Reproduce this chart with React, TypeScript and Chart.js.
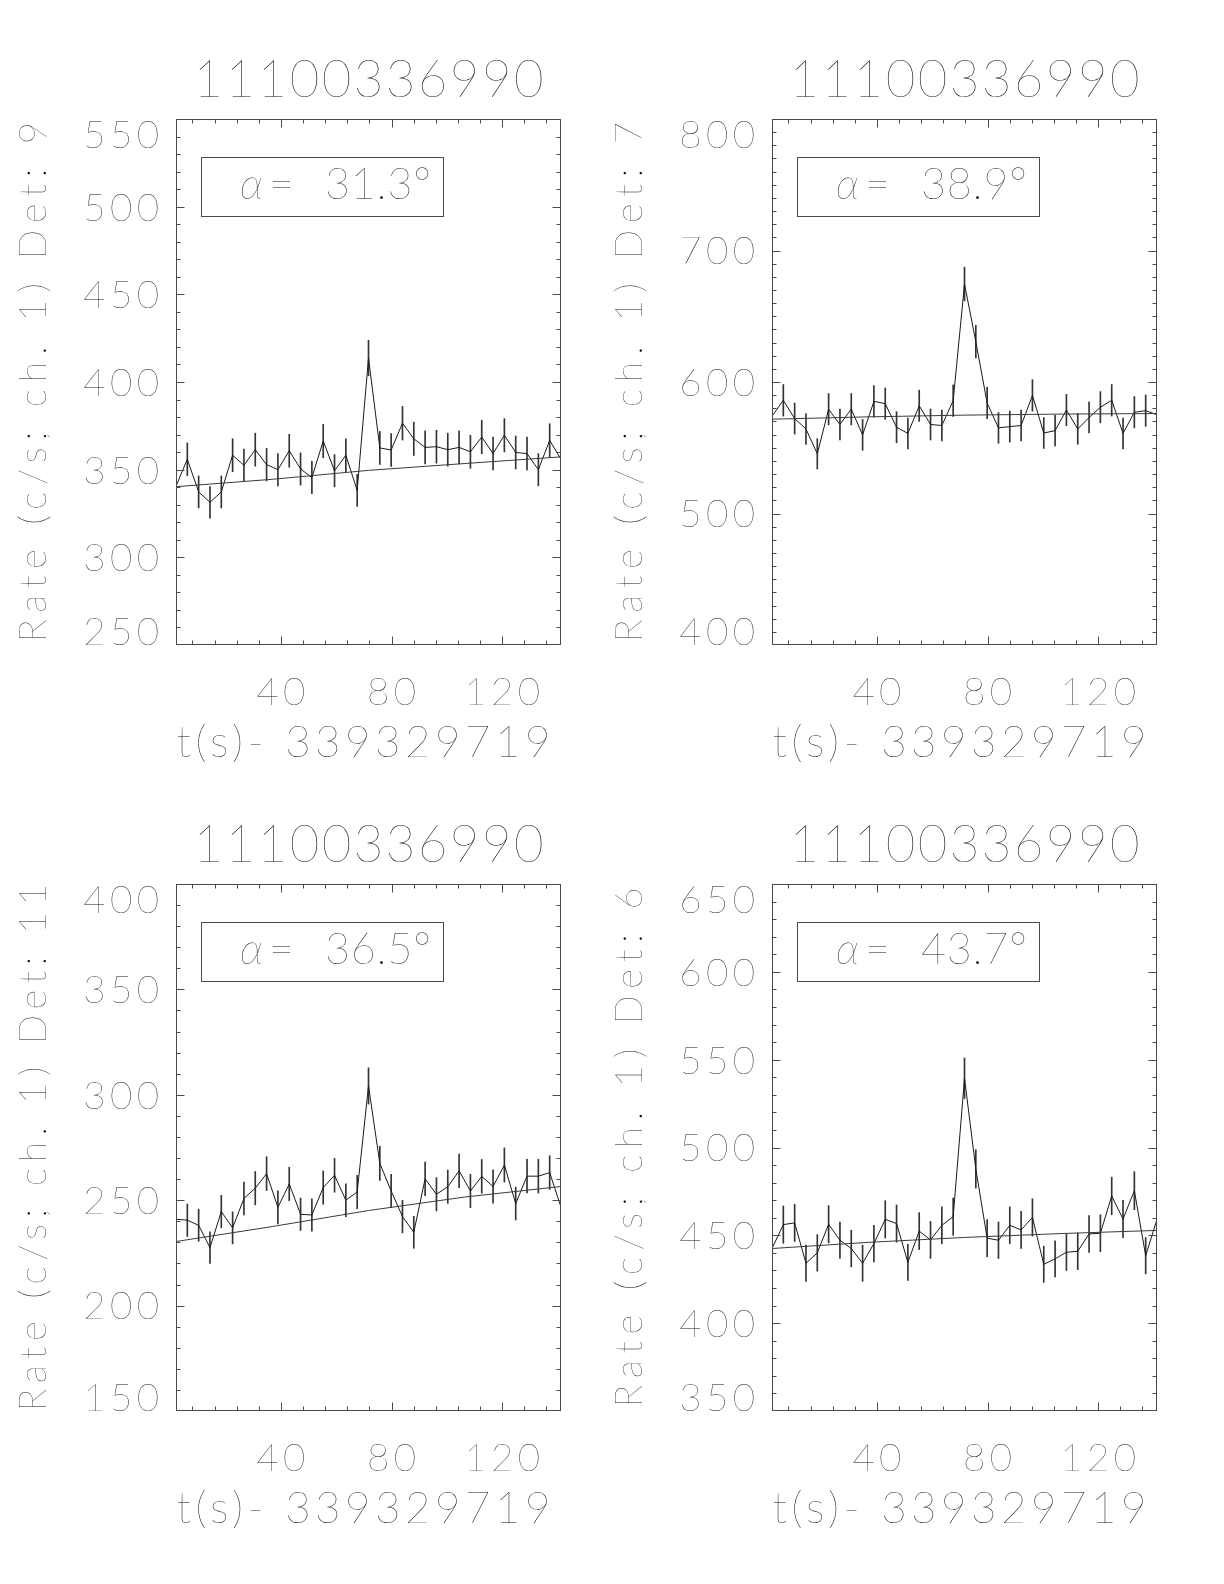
import React, { useEffect, useRef } from "react";
import { Chart, registerables } from "chart.js";

Chart.register(...registerables);

// ---------------- data ----------------
const TITLE = "11100336990";
const X_TITLE = "t(s)- 339329719";
const Y_TITLE_PREFIX = "Rate (c/s; ch. 1) Det: ";

const TIME = [
  2.048, 6.144, 10.24, 14.336, 18.432, 22.528, 26.624, 30.72, 34.816, 38.912,
  43.008, 47.104, 51.2, 55.296, 59.392, 63.488, 67.584, 71.68, 75.776, 79.872,
  83.968, 88.064, 92.16, 96.256, 100.352, 104.448, 108.544, 112.64, 116.736, 120.832,
  124.928, 129.024, 133.12, 137.216, 141.312,
];
const X_MIN = 2.048;
const X_MAX = 141.312;
const X_TICKS = [40, 80, 120];
const X_MINOR_STEP = 8;

const FIT_TIME = [2.048, 36.864, 71.68, 106.496, 141.312];

const RATE_DET9 = [
  340.6, 355.9, 337.3, 331.4, 337.3, 358.2, 352.5, 361.4, 352.9, 350.0,
  360.8, 350.4, 345.5, 366.3, 349.4, 358.2, 338.2, 413.7, 362.4, 361.2,
  376.5, 367.6, 362.7, 363.1, 361.4, 362.7, 360.2, 368.6, 359.2, 369.6,
  359.8, 359.2, 350.0, 366.7, 355.9,
];
const ERR_DET9 = [
  9.1, 9.3, 9.1, 9.0, 9.1, 9.4, 9.3, 9.4, 9.3, 9.2,
  9.4, 9.2, 9.2, 9.5, 9.2, 9.4, 9.1, 10.1, 9.4, 9.4,
  9.6, 9.5, 9.4, 9.4, 9.4, 9.4, 9.4, 9.5, 9.4, 9.5,
  9.4, 9.4, 9.2, 9.5, 9.3,
];
const FIT_DET9 = [340.3, 344.5, 349.6, 353.5, 357.3];
const Y_TICKS_DET9 = [250, 300, 350, 400, 450, 500, 550];

const RATE_DET7 = [
  574.0, 586.1, 572.2, 564.3, 545.4, 579.3, 567.7, 579.3, 559.8, 585.3,
  583.5, 565.6, 560.9, 581.9, 567.7, 566.9, 585.8, 674.5, 630.7, 584.0,
  565.1, 566.1, 566.9, 589.8, 561.2, 563.0, 578.7, 564.3, 573.0, 580.8,
  586.1, 560.9, 577.0, 578.2, 575.1,
];
const ERR_DET7 = [
  11.8, 12.0, 11.8, 11.7, 11.5, 11.9, 11.8, 11.9, 11.7, 12.0,
  11.9, 11.8, 11.7, 11.9, 11.8, 11.8, 12.0, 12.8, 12.4, 11.9,
  11.7, 11.8, 11.8, 12.0, 11.7, 11.7, 11.9, 11.7, 11.8, 11.9,
  12.0, 11.7, 11.9, 11.9, 11.8,
];
const FIT_DET7 = [571.7, 573.5, 574.8, 575.6, 576.0];
const Y_TICKS_DET7 = [400, 500, 600, 700, 800];

const RATE_DET11 = [
  241.0, 240.5, 238.1, 227.5, 244.6, 236.9, 250.8, 255.7, 262.6, 246.6,
  257.7, 243.3, 243.0, 256.0, 261.8, 250.0, 253.9, 304.2, 267.5, 254.4,
  242.2, 234.8, 260.1, 252.8, 256.4, 263.9, 254.4, 261.3, 256.5, 266.7,
  248.4, 261.4, 261.4, 263.1, 246.7,
];
const ERR_DET11 = [
  7.7, 7.7, 7.6, 7.5, 7.7, 7.6, 7.8, 7.9, 8.0, 7.8,
  7.9, 7.7, 7.7, 7.9, 8.0, 7.8, 7.9, 8.6, 8.1, 7.9,
  7.7, 7.6, 8.0, 7.9, 7.9, 8.0, 7.9, 8.0, 7.9, 8.1,
  7.8, 8.0, 8.0, 8.0, 7.8,
];
const FIT_DET11 = [230.4, 237.5, 245.1, 251.5, 256.5];
const Y_TICKS_DET11 = [150, 200, 250, 300, 350, 400];

const RATE_DET6 = [
  442.5, 456.1, 457.1, 434.1, 440.0, 456.3, 447.2, 442.5, 434.1, 445.3,
  459.1, 456.7, 434.6, 452.4, 447.4, 455.7, 460.6, 539.4, 487.8, 448.4,
  447.2, 455.7, 453.1, 460.2, 433.5, 436.6, 440.4, 440.9, 450.8, 451.2,
  472.4, 459.3, 475.4, 438.4, 459.1,
];
const ERR_DET6 = [
  10.4, 10.6, 10.6, 10.3, 10.4, 10.6, 10.4, 10.4, 10.3, 10.4,
  10.6, 10.6, 10.3, 10.5, 10.5, 10.5, 10.6, 11.5, 10.9, 10.5,
  10.4, 10.5, 10.5, 10.6, 10.3, 10.3, 10.4, 10.4, 10.5, 10.5,
  10.7, 10.6, 10.8, 10.3, 10.6,
];
const FIT_DET6 = [442.5, 446.0, 448.8, 451.0, 452.8];
const Y_TICKS_DET6 = [350, 400, 450, 500, 550, 600, 650];

// ---------------- layout / style ----------------
type PanelSpec = {
  det: string;
  alpha: string;
  rate: number[];
  err: number[];
  fit: number[];
  yTicks: number[];
  yMinor: number;
  pageX: number;
  pageY: number;
  area: { l: number; r: number; t: number; b: number };
};

const CANVAS_W = 612;
const CANVAS_H = 792;

const PANELS: PanelSpec[] = [
  { det: "9", alpha: "31.3", rate: RATE_DET9, err: ERR_DET9, fit: FIT_DET9, yTicks: Y_TICKS_DET9, yMinor: 10,
    pageX: 0, pageY: 0, area: { l: 176, r: 561, t: 119, b: 645 } },
  { det: "7", alpha: "38.9", rate: RATE_DET7, err: ERR_DET7, fit: FIT_DET7, yTicks: Y_TICKS_DET7, yMinor: 10,
    pageX: 612, pageY: 0, area: { l: 160, r: 545, t: 119, b: 645 } },
  { det: "11", alpha: "36.5", rate: RATE_DET11, err: ERR_DET11, fit: FIT_DET11, yTicks: Y_TICKS_DET11, yMinor: 10,
    pageX: 0, pageY: 792, area: { l: 176, r: 561, t: 92, b: 619 } },
  { det: "6", alpha: "43.7", rate: RATE_DET6, err: ERR_DET6, fit: FIT_DET6, yTicks: Y_TICKS_DET6, yMinor: 10,
    pageX: 612, pageY: 792, area: { l: 160, r: 545, t: 92, b: 619 } },
];

const FAMILY = 'Lato, "DejaVu Sans", sans-serif';
const WEIGHT = 200;
const TEXT_COLOR = "#0a0a0a";
const FRAME_COLOR = "#4a4a4a";
const DATA_COLOR = "#1a1a1a";
const ERR_COLOR = "#333333";
const FIT_COLOR = "#3a3a3a";
const MAJOR_LEN = 8;
const MINOR_LEN = 4;
const CAP = 0.72;

const TICK_FONT = 38.5;
const TICK_SPACING = 4.4;
const YTITLE_FONT = 38.5;
const YTITLE_SPAN = 520;
const XTITLE_FONT = 44;
const XTITLE_SPAN = 374;
const TITLE_FONT = 51;
const TITLE_SPAN = 350;
const ALPHA_FONT = 43;
const ALPHA_NUM_SPAN = 106;

function setFont(ctx: CanvasRenderingContext2D, size: number, italic = false) {
  ctx.font = `${italic ? "italic " : ""}${WEIGHT} ${size}px ${FAMILY}`;
}

function drawText(
  ctx: CanvasRenderingContext2D,
  text: string,
  x: number,
  y: number,
  size: number,
  align: CanvasTextAlign,
  spacing: number,
  italic = false
) {
  setFont(ctx, size, italic);
  (ctx as any).letterSpacing = `${spacing}px`;
  ctx.textAlign = align;
  ctx.textBaseline = "alphabetic";
  let dx = 0;
  if (align === "right") dx = spacing;
  else if (align === "center") dx = spacing / 2;
  ctx.fillText(text, x + dx, y);
  (ctx as any).letterSpacing = "0px";
}

// spacing so that the text occupies roughly `span` pixels
function fitSpacing(ctx: CanvasRenderingContext2D, text: string, size: number, span: number, italic = false) {
  setFont(ctx, size, italic);
  (ctx as any).letterSpacing = "0px";
  const w = ctx.measureText(text).width;
  return Math.max(0, (span - w) / Math.max(1, text.length - 1));
}

function makeDecor(p: PanelSpec) {
  return {
    id: "idlDecor",
    afterDraw(chart: any) {
      const ctx: CanvasRenderingContext2D = chart.ctx;
      const xs = chart.scales.x;
      const ys = chart.scales.y;
      const { left, right, top, bottom } = chart.chartArea;
      const yMin = p.yTicks[0];
      const yMax = p.yTicks[p.yTicks.length - 1];
      ctx.save();

      // frame
      ctx.strokeStyle = FRAME_COLOR;
      ctx.lineWidth = 1;
      const L = Math.round(left) + 0.5;
      const R = Math.round(right) - 0.5;
      const T = Math.round(top) + 0.5;
      const B = Math.round(bottom) - 0.5;
      ctx.strokeRect(L, T, R - L, B - T);

      // ticks (major and minor, all four sides, pointing inward)
      ctx.beginPath();
      for (let v = Math.ceil(X_MIN / X_MINOR_STEP) * X_MINOR_STEP; v <= X_MAX; v += X_MINOR_STEP) {
        const px = Math.round(xs.getPixelForValue(v)) + 0.5;
        const len = X_TICKS.includes(v) ? MAJOR_LEN : MINOR_LEN;
        ctx.moveTo(px, B);
        ctx.lineTo(px, B - len);
        ctx.moveTo(px, T);
        ctx.lineTo(px, T + len);
      }
      for (let v = yMin + p.yMinor; v < yMax; v += p.yMinor) {
        const py = Math.round(ys.getPixelForValue(v)) + 0.5;
        const len = p.yTicks.includes(v) ? MAJOR_LEN : MINOR_LEN;
        ctx.moveTo(L, py);
        ctx.lineTo(L + len, py);
        ctx.moveTo(R, py);
        ctx.lineTo(R - len, py);
      }
      ctx.stroke();

      ctx.fillStyle = TEXT_COLOR;
      const cap = TICK_FONT * CAP;

      // y tick labels
      p.yTicks.forEach((v, i) => {
        const py = ys.getPixelForValue(v);
        let base = py + cap / 2;
        if (i === 0) base = bottom;
        else if (i === p.yTicks.length - 1) base = top + cap + 1;
        drawText(ctx, String(v), left - 17, base, TICK_FONT, "right", TICK_SPACING);
      });

      // x tick labels
      X_TICKS.forEach((v) => {
        drawText(ctx, String(v), xs.getPixelForValue(v), bottom + 60, TICK_FONT, "center", TICK_SPACING);
      });

      // x title
      const xsSp = fitSpacing(ctx, X_TITLE, XTITLE_FONT, XTITLE_SPAN);
      drawText(ctx, X_TITLE, (left + right) / 2 - 5, bottom + 112, XTITLE_FONT, "center", xsSp);

      // title
      const tSp = fitSpacing(ctx, TITLE, TITLE_FONT, TITLE_SPAN);
      drawText(ctx, TITLE, (left + right) / 2, top - 22, TITLE_FONT, "center", tSp);

      // y title (rotated)
      const yTitle = Y_TITLE_PREFIX + p.det;
      const ySp = fitSpacing(ctx, yTitle, YTITLE_FONT, YTITLE_SPAN + (p.det.length - 1) * 8);
      ctx.save();
      ctx.translate(left - 130, (top + bottom) / 2);
      ctx.rotate(-Math.PI / 2);
      drawText(ctx, yTitle, 0, 0, YTITLE_FONT, "center", ySp);
      ctx.restore();

      // alpha box
      ctx.strokeStyle = FRAME_COLOR;
      ctx.strokeRect(Math.round(left) + 25.5, Math.round(top) + 38.5, 242, 59);
      const ay = top + 80;
      drawText(ctx, "\u03b1", left + 64, ay, ALPHA_FONT, "left", 0, true);
      drawText(ctx, "=", left + 93, ay, ALPHA_FONT, "left", 0);
      const num = p.alpha + "\u00b0";
      const nSp = fitSpacing(ctx, num, ALPHA_FONT, ALPHA_NUM_SPAN);
      drawText(ctx, num, left + 149, ay, ALPHA_FONT, "left", nSp);

      ctx.restore();
    },
  };
}

function Panel({ p }: { p: PanelSpec }) {
  const ref = useRef<HTMLCanvasElement | null>(null);
  useEffect(() => {
    const canvas = ref.current;
    if (!canvas) return;
    const yMin = p.yTicks[0];
    const yMax = p.yTicks[p.yTicks.length - 1];
    const chart = new Chart(canvas, {
      type: "line",
      data: {
        datasets: [
          {
            type: "line",
            label: "rate",
            data: TIME.map((t, i) => ({ x: t, y: p.rate[i] })),
            borderColor: DATA_COLOR,
            borderWidth: 1,
            pointRadius: 0,
            tension: 0,
            fill: false,
            order: 1,
          } as any,
          {
            type: "bar",
            label: "error",
            data: TIME.map((t, i) => ({ x: t, y: [p.rate[i] - p.err[i], p.rate[i] + p.err[i]] })),
            backgroundColor: ERR_COLOR,
            borderWidth: 0,
            barThickness: 1,
            grouped: false,
            order: 2,
          } as any,
          {
            type: "line",
            label: "fit",
            data: FIT_TIME.map((t, i) => ({ x: t, y: p.fit[i] })),
            borderColor: FIT_COLOR,
            borderWidth: 1,
            pointRadius: 0,
            tension: 0,
            fill: false,
            order: 0,
          } as any,
        ],
      },
      options: {
        animation: false,
        responsive: false,
        maintainAspectRatio: false,
        devicePixelRatio: 1,
        events: [],
        layout: {
          padding: {
            left: p.area.l,
            right: CANVAS_W - p.area.r,
            top: p.area.t,
            bottom: CANVAS_H - p.area.b,
          },
        },
        plugins: {
          legend: { display: false },
          tooltip: { enabled: false },
          title: { display: false },
        },
        scales: {
          x: { type: "linear", min: X_MIN, max: X_MAX, display: false, offset: false },
          y: { type: "linear", min: yMin, max: yMax, display: false, beginAtZero: false },
        },
      } as any,
      plugins: [makeDecor(p)],
    });
    return () => chart.destroy();
  }, [p]);
  return (
    <canvas
      ref={ref}
      width={CANVAS_W}
      height={CANVAS_H}
      style={{ position: "absolute", left: p.pageX, top: p.pageY, width: CANVAS_W, height: CANVAS_H }}
    />
  );
}

export default function App() {
  return (
    <div style={{ position: "absolute", left: 0, top: 0, width: 1224, height: 1584, background: "#fff" }}>
      {PANELS.map((p) => (
        <Panel key={p.det} p={p} />
      ))}
    </div>
  );
}
